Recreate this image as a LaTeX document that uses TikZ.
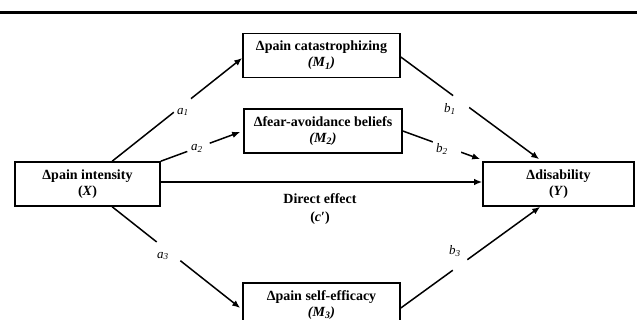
\documentclass[tikz,border=0pt]{standalone}
\usepackage{fontspec}
\setmainfont{Liberation Serif}
\usetikzlibrary{arrows.meta}
\begin{document}
\begin{tikzpicture}[x=1pt,y=-1pt,
  box/.style={draw=black, line width=1.6pt, minimum height=44pt, align=center,
    font=\fontsize{14}{16}\selectfont\bfseries, inner sep=0pt},
  arr/.style={line width=1.5pt, -{Latex[length=8pt,width=6.5pt]}},
  gap/.style={fill=white, circle, inner sep=0pt},
  lab/.style={font=\fontsize{13}{15}\selectfont\itshape, inner sep=0pt},
]
\useasboundingbox (0,0) rectangle (637,320);
\clip (0,0) rectangle (637,320);
\draw[line width=3pt] (0,13) -- (637,13);

\node[box, minimum width=145pt] (X) at (87.5,184) {Δpain intensity\\(\textit{X})};
\node[box, minimum width=151pt] (Y) at (558.5,184) {Δdisability\\(\textit{Y})};
\node[box, minimum width=157pt] (M1) at (321.5,55.5) {Δpain catastrophizing\\\textit{(M\textsubscript{1})}};
\node[box, minimum width=158pt] (M2) at (323,131) {Δfear-avoidance beliefs\\\textit{(M\textsubscript{2})}};
\node[box, minimum width=157pt] (M3) at (321.5,305) {Δpain self-efficacy\\\textit{(M\textsubscript{3})}};

\draw[arr] ([xshift=98pt]X.north west) -- node[gap, pos=0.54, minimum size=22pt] (g1) {} ([yshift=-2.5pt]M1.west);
\draw[arr] (X.north east) -- node[gap, pos=0.475, minimum size=24pt] (g2) {} ([xshift=-3pt,yshift=-1pt]M2.west);
\draw[arr] ([yshift=2pt]X.east) -- ([yshift=2pt]Y.west);
\draw[arr] ([yshift=-1.5pt]M1.east) -- node[gap, pos=0.436, minimum size=20pt] (g3) {} ([xshift=57pt,yshift=2pt]Y.north west);
\draw[arr] (M2.east) -- node[gap, pos=0.57, minimum size=30pt] (g4) {} ([xshift=-2pt,yshift=2pt]Y.north west);
\draw[arr] ([xshift=98pt]X.south west) -- node[gap, pos=0.44, minimum size=30pt] (g5) {} ([xshift=-2pt,yshift=-3pt]M3.west);
\draw[arr] ([yshift=-3pt]M3.east) -- node[gap, pos=0.425, minimum size=18pt] (g6) {} ([xshift=58pt]Y.south west);

\node[lab] (la1) at (183,112) {a\textsubscript{1}};
\node[lab] (la2) at (197,148) {a\textsubscript{2}};
\node[lab] (lb1) at (450,109) {b\textsubscript{1}};
\node[lab] (lb2) at (442,149) {b\textsubscript{2}};
\node[lab] (la3) at (163,256) {a\textsubscript{3}};
\node[lab] (lb3) at (455,251) {b\textsubscript{3}};

\node[align=center, font=\fontsize{14}{18}\selectfont\bfseries, inner sep=0pt] (de) at (320,209) {Direct effect\\(\textit{c}′)};
\end{tikzpicture}
\end{document}
